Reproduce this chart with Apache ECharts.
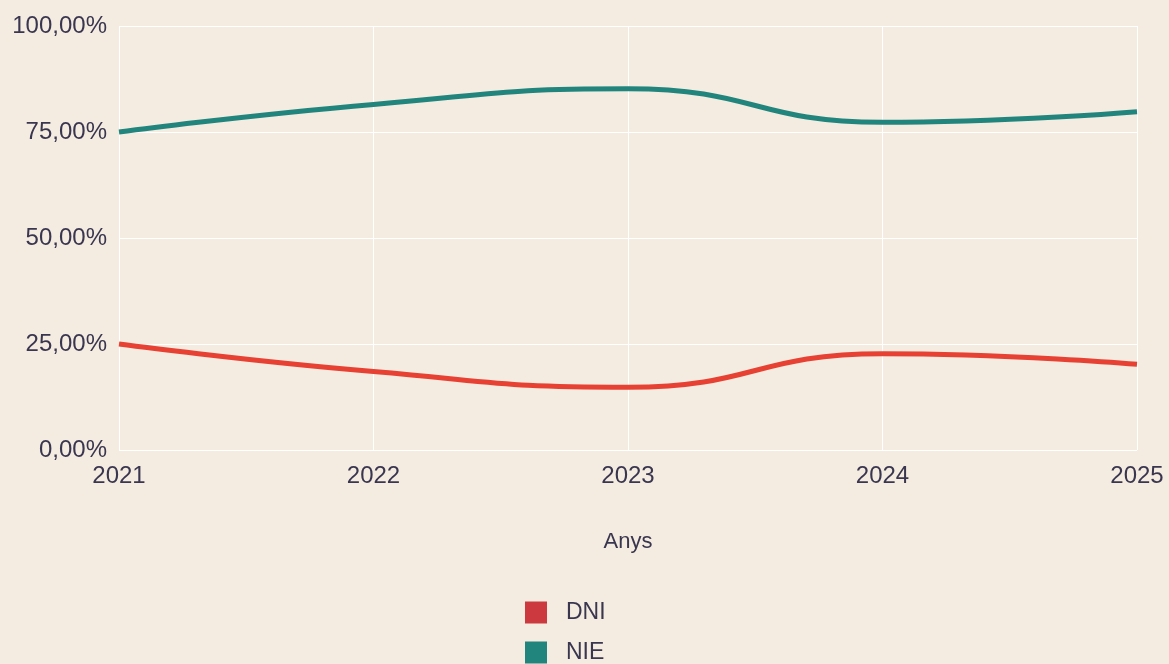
<!DOCTYPE html>
<html>
<head>
<meta charset="utf-8">
<script src="https://cdn.jsdelivr.net/npm/echarts@6/dist/echarts.min.js"></script>
<style>
  html, body { margin: 0; padding: 0; background: #f4ece0; }
  #chart { width: 1169px; height: 664px; }
</style>
</head>
<body>
<div id="chart"></div>
<script>
const years = ['2021', '2022', '2023', '2024', '2025']
const dniValues = [25.0, 18.5, 14.8, 22.7, 20.2]
const nieValues = [75.0, 81.5, 85.2, 77.3, 79.8]
const seriesNames = ['DNI', 'NIE']

const textColor = '#3a3650'
const fontFamily = 'Liberation Sans'
const chart = echarts.init(document.getElementById('chart'))

// one legend per entry so the two rows stack like the original
const legendFor = (name, top) => ({
    orient: 'vertical',
    left: 525,
    top: top,
    padding: 0,
    itemWidth: 22,
    itemHeight: 22,
    icon: 'rect',
    textStyle: { color: textColor, fontSize: 23, fontFamily: fontFamily, padding: [0, 0, 0, 14] },
    data: [name]
})

chart.setOption({
    backgroundColor: '#f4ece0',
    grid: {
        left: 119,
        right: 32,
        top: 26,
        bottom: 214
    },
    legend: [legendFor(seriesNames[0], 601), legendFor(seriesNames[1], 641)],
    xAxis: {
        type: 'category',
        data: years,
        boundaryGap: false,
        name: 'Anys',
        nameLocation: 'middle',
        nameGap: 81,
        nameTextStyle: { color: textColor, fontSize: 22, fontFamily: fontFamily },
        axisLine: { show: false },
        axisTick: { show: false },
        axisLabel: { color: textColor, fontSize: 24, margin: 14, fontFamily: fontFamily },
        splitLine: { show: true, lineStyle: { color: '#ffffff', width: 1 } }
    },
    yAxis: {
        type: 'value',
        min: 0,
        max: 100,
        interval: 25,
        axisLine: { show: false },
        axisTick: { show: false },
        axisLabel: {
            color: textColor,
            fontSize: 24,
            margin: 12,
            fontFamily: fontFamily,
            formatter: v => v.toFixed(2).replace('.', ',') + '%'
        },
        splitLine: { lineStyle: { color: '#ffffff', width: 1 } }
    },
    series: [
        {
            name: seriesNames[0],
            type: 'line',
            smooth: true,
            symbol: 'none',
            data: dniValues,
            itemStyle: { color: '#cc3a40' },
            lineStyle: { color: '#e74133', width: 5 }
        },
        {
            name: seriesNames[1],
            type: 'line',
            smooth: true,
            symbol: 'none',
            data: nieValues,
            itemStyle: { color: '#21857d' },
            lineStyle: { color: '#21857d', width: 5 }
        }
    ]
})
</script>
</body>
</html>
